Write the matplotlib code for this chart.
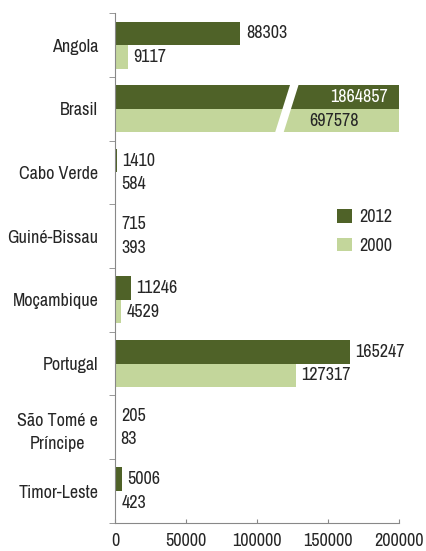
import numpy as np
import matplotlib.pyplot as plt
from matplotlib.patches import Polygon

plt.rcParams['font.family'] = ['Liberation Sans Narrow', 'Arial Narrow', 'Archivo Narrow',
                               'Roboto Condensed', 'PT Sans Narrow', 'DejaVu Sans']
fs = 13
plt.rcParams['font.size'] = fs

# dados
paises = ['Angola', 'Brasil', 'Cabo Verde', 'Guiné-Bissau', 'Moçambique',
          'Portugal', 'São Tomé e\nPríncipe', 'Timor-Leste']
v2012 = [88303, 1864857, 1410, 715, 11246, 165247, 205, 5006]
v2000 = [9117, 697578, 584, 393, 4529, 127317, 83, 423]
xticks = [0, 50000, 100000, 150000, 200000]

cor_2012 = '#4F6228'
cor_2000 = '#C3D69B'
cor_texto = '#262626'
xmax = 200000

fig = plt.figure(figsize=(4.26, 5.51), dpi=100)
ax = fig.add_axes([0.27, 0.051, 0.667, 0.925])

y = np.arange(len(paises))
h = 0.37
ax.barh(y - h / 2, v2012, height=h, color=cor_2012, label='2012')
ax.barh(y + h / 2, v2000, height=h, color=cor_2000, label='2000')

ax.set_xlim(0, xmax)
ax.set_ylim(len(paises) - 0.5, -0.5)

# rótulos dos valores
for i in range(len(paises)):
    for val, off in ((v2012[i], -h / 2), (v2000[i], h / 2)):
        if val > xmax:
            continue
        ax.annotate(str(val), (val, i + off), xytext=(4, 0), textcoords='offset points',
                    ha='left', va='center', color=cor_texto, fontsize=fs)

# Brasil: barra cortada
ib = paises.index('Brasil')
ax.annotate(str(v2012[ib]), (xmax, ib - h / 2), xytext=(-8, 0), textcoords='offset points',
            ha='right', va='center', color='white', fontsize=fs)
ax.annotate(str(v2000[ib]), (0.685 * xmax, ib + h / 2), ha='left', va='center',
            color=cor_texto, fontsize=fs)
y0, y1 = ib - h - 0.02, ib + h + 0.02
corte = Polygon([(0.617 * xmax, y0), (0.647 * xmax, y0),
                 (0.592 * xmax, y1), (0.562 * xmax, y1)],
                closed=True, facecolor='white', edgecolor='none', zorder=3)
ax.add_patch(corte)

# eixos
ax.set_yticks(y)
ax.set_yticklabels(paises, multialignment='center', linespacing=1.55)
ax.set_yticks(np.arange(len(paises) + 1) - 0.5, minor=True)
ax.tick_params(axis='y', which='major', length=0, pad=12, colors=cor_texto, labelsize=fs)
ax.tick_params(axis='y', which='minor', length=4, direction='out', color='#888888')
ax.set_xticks(xticks)
ax.set_xticklabels([str(t) for t in xticks])
ax.tick_params(axis='x', direction='in', length=3, pad=7, color='#888888',
               labelcolor=cor_texto, labelsize=fs)

for s in ('top', 'right'):
    ax.spines[s].set_visible(False)
for s in ('left', 'bottom'):
    ax.spines[s].set_color('#888888')

ax.legend(loc='center left', bbox_to_anchor=(0.725, 0.572), frameon=False,
          handlelength=0.8, handleheight=0.8, handletextpad=0.4, labelspacing=0.7,
          fontsize=fs, labelcolor=cor_texto)

fig.savefig('out.png', dpi=100)
